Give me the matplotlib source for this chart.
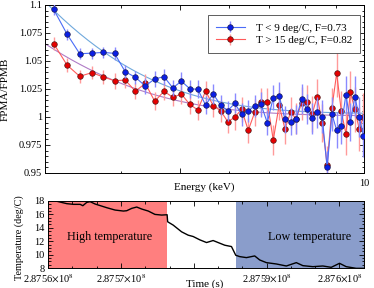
import numpy as np
import matplotlib
matplotlib.use("Agg")
import matplotlib.pyplot as plt
from matplotlib.ticker import MultipleLocator, FixedLocator, FuncFormatter, NullFormatter

plt.rcParams['font.family'] = ['Liberation Serif', 'DejaVu Serif']
plt.rcParams['mathtext.fontset'] = 'stix'

# ---- spectrum ratio data (energy bins, keV) ----
energy = [3.10, 3.26, 3.42, 3.58, 3.74, 3.90, 4.06, 4.22, 4.38, 4.54, 4.70,
          4.86, 5.02, 5.18, 5.34, 5.50, 5.66, 5.82, 5.98, 6.14, 6.30, 6.46,
          6.62, 6.78, 6.94, 7.10, 7.26, 7.42, 7.58, 7.74, 7.90, 8.06, 8.22,
          8.38, 8.54, 8.70, 8.86, 9.02, 9.18, 9.34, 9.50, 9.66, 9.82, 9.98]
ratio_cold = [1.096, 1.074, 1.0565, 1.057, 1.0577, 1.0568, 1.0405, 1.0354, 1.0277,
              1.034, 1.036, 1.026, 1.032, 1.0253, 1.0247, 1.0107, 1.0205, 1.0107,
              1.0056, 1.0122, 1.0024, 1.0056, 1.0098, 1.0113, 0.995, 1.0173, 1.019,
              0.998, 0.9958, 0.998, 1.0161, 1.0071, 0.9988, 1.0042, 1.0003, 0.955,
              1.0027, 0.9881, 0.9922, 1.020, 0.9953, 1.0182, 1.0003, 0.9833]
ratio_hot = [1.0655, 1.0464, 1.0363, 1.0396, 1.0357, 1.0324, 1.033, 1.023, 1.030,
             1.014, 1.023, 1.0176, 1.0205, 1.0113, 1.0063, 1.0232, 1.0101, 1.0056,
             0.9958, 0.9997, 1.0069, 0.9881, 1.0042, 1.0137, 1.0137, 0.9795, 1.0107,
             0.9893, 1.0042, 0.9985, 1.0122, 1.0137, 1.0024, 1.0182, 0.995, 0.9571,
             1.0083, 1.039, 1.005, 0.985, 1.022, 1.0069, 0.9893, 1.0003]
err_cold = [0.005, 0.005, 0.005, 0.005, 0.005, 0.006, 0.006, 0.006, 0.007, 0.007, 0.007,
            0.007, 0.008, 0.008, 0.008, 0.008, 0.009, 0.009, 0.009, 0.009, 0.010, 0.010,
            0.010, 0.011, 0.011, 0.011, 0.012, 0.012, 0.012, 0.013, 0.013, 0.013, 0.014,
            0.014, 0.015, 0.015, 0.015, 0.016, 0.016, 0.017, 0.017, 0.018, 0.018, 0.019]
err_hot = [0.006, 0.006, 0.006, 0.006, 0.006, 0.007, 0.007, 0.007, 0.008, 0.008, 0.008,
           0.008, 0.009, 0.009, 0.009, 0.009, 0.010, 0.010, 0.010, 0.011, 0.011, 0.011,
           0.012, 0.012, 0.012, 0.013, 0.013, 0.013, 0.014, 0.014, 0.015, 0.015, 0.016,
           0.016, 0.017, 0.017, 0.018, 0.021, 0.018, 0.019, 0.019, 0.020, 0.020, 0.021]
# fit parameters: a + b*exp(-(E-3)/c)
fit_cold = (1.003, 0.100, 1.25)
fit_hot = (1.001, 0.0645, 1.25)
labels = ["T < 9 deg/C, F=0.73", "T > 15 deg/C, F=0.82"]

# ---- temperature log (s after 2.8756e8, deg C) ----
t0 = 2.8756e8
t_off = [-100, 1411, 2562, 3466, 4384, 4754, 5302, 5754, 6439, 8042, 9179, 10316,
         10782, 11467, 12152, 12837, 13741, 14659, 15577, 16330, 16400, 17166,
         18317, 19221, 19906, 20824, 21742, 22646, 23331, 24249, 25167, 25756,
         26304, 27222, 28359, 29044, 29962, 31332, 32702, 34071, 34976, 36346,
         37716, 38866, 40004, 40922, 42292, 43300]
temp = [18.3, 17.9, 17.6, 17.5, 17.5, 17.3, 17.8, 17.9, 17.55, 17.0, 16.65, 16.5,
        16.55, 16.9, 17.1, 16.8, 16.5, 16.0, 15.9, 15.95, 14.9, 14.4,
        13.4, 12.9, 12.7, 12.2, 11.8, 12.1, 11.8, 11.4, 11.2, 9.9,
        9.7, 9.55, 9.8, 9.2, 8.8, 8.6, 8.3, 8.8, 8.35, 8.2,
        8.3, 8.1, 8.7, 8.2, 7.95, 7.95]
hot_end = 16380
cold_start = 25850

fig = plt.figure(figsize=(3.74, 2.88), dpi=100)

# ---------- top panel ----------
ax = fig.add_axes([45/374, 1-173/288, 319/374, 168/288])
E = np.array(energy)
ef = np.linspace(3, 10, 200)
a, b, c = fit_cold
ax.plot(ef, a + b*np.exp(-(ef-3)/c), color='#6fa8dc', lw=0.8, zorder=1)
a, b, c = fit_hot
ax.plot(ef, a + b*np.exp(-(ef-3)/c), color='#b07cc6', lw=0.8, zorder=1)

h1 = ax.errorbar(E, ratio_cold, yerr=err_cold, fmt='-o', color='#4a6cf7', lw=0.8,
                 ecolor='#8a8aff', elinewidth=1.0, markersize=4, markerfacecolor='#0a1ee6',
                 markeredgecolor='#1a1a50', markeredgewidth=0.5, zorder=3)
h2 = ax.errorbar(E, ratio_hot, yerr=err_hot, fmt='-o', color='#ff5a5a', lw=0.8,
                 ecolor='#ff9a9a', elinewidth=1.0, markersize=4, markerfacecolor='#e60000',
                 markeredgecolor='#501a1a', markeredgewidth=0.5, zorder=2)

ax.set_xscale('log')
ax.set_xlim(3, 10)
ax.set_ylim(0.95, 1.1)
ax.xaxis.set_major_locator(FixedLocator([5, 10]))
ax.xaxis.set_minor_locator(FixedLocator([4, 6, 7, 8, 9]))
ax.xaxis.set_major_formatter(FuncFormatter(lambda v, p: "10" if v == 10 else ""))
ax.xaxis.set_minor_formatter(NullFormatter())
ax.yaxis.set_major_locator(MultipleLocator(0.025))
ax.yaxis.set_minor_locator(MultipleLocator(0.005))
ax.yaxis.set_major_formatter(FuncFormatter(lambda v, p: "%g" % round(v, 3)))
ax.tick_params(which='both', direction='in', top=True, right=True, labelsize=7.5, pad=2, width=0.6)
ax.tick_params(axis='x', pad=4)
ax.tick_params(which='major', length=3.5)
ax.tick_params(which='minor', length=1.8)
ax.set_ylabel("FPMA/FPMB", fontsize=8)
ax.yaxis.set_label_coords(-0.11, 0.5)
ax.set_xlabel("Energy (keV)", fontsize=8)
ax.xaxis.set_label_coords(0.5, -0.055)
for s in ax.spines.values():
    s.set_linewidth(0.7)
leg = ax.legend([h1, h2], labels, loc='upper right', bbox_to_anchor=(0.987, 0.94),
                borderaxespad=0, fontsize=8, fancybox=False, framealpha=1,
                edgecolor='#444444', handlelength=2.6, handletextpad=1.0,
                borderpad=0.7, labelspacing=0.25)
leg.get_frame().set_linewidth(0.6)

# ---------- bottom panel ----------
bx = fig.add_axes([47.5/374, 1-268/288, 316/374, 67/288])
bx.axvspan(t0 - 100, t0 + hot_end, color='#ff7f7f', lw=0, zorder=0)
bx.axvspan(t0 + cold_start, t0 + 43300, color='#8a9dcb', lw=0, zorder=0)
bx.plot(t0 + np.array(t_off), temp, color='black', lw=1.0, zorder=2)
bx.text(t0 + 8357, 12.7, "High temperature", fontsize=8.7, ha='center', va='center')
bx.text(t0 + 35894, 12.7, "Low temperature", fontsize=8.7, ha='center', va='center')
bx.set_xlim(t0 - 100, t0 + 43300)
bx.set_ylim(8, 18)
bx.xaxis.set_major_locator(MultipleLocator(10000))
bx.xaxis.set_minor_locator(MultipleLocator(10000/3))
tick_txt = {0: r"2.8756$\times$10$^{8}$", 1: r"2.8757$\times$10$^{8}$",
            3: r"2.8759$\times$10$^{8}$", 4: r"2.876$\times$10$^{8}$"}
bx.xaxis.set_major_formatter(FuncFormatter(lambda v, p: tick_txt.get(int(round((v - t0)/10000)), "")))
bx.yaxis.set_major_locator(MultipleLocator(2))
bx.yaxis.set_minor_locator(MultipleLocator(0.5))
bx.tick_params(which='both', direction='in', top=True, right=True, labelsize=7.5, pad=2, width=0.6)
bx.tick_params(axis='x', pad=3.5)
bx.tick_params(which='major', length=3.5)
bx.tick_params(which='minor', length=1.8)
bx.set_xlabel("Time (s)", fontsize=8)
bx.xaxis.set_label_coords(0.498, -0.17)
bx.set_ylabel("Temperature (deg/C)", fontsize=7.3)
bx.yaxis.set_label_coords(-0.074, 0.45)
for s in bx.spines.values():
    s.set_linewidth(0.7)

fig.savefig("out.png", dpi=100)
